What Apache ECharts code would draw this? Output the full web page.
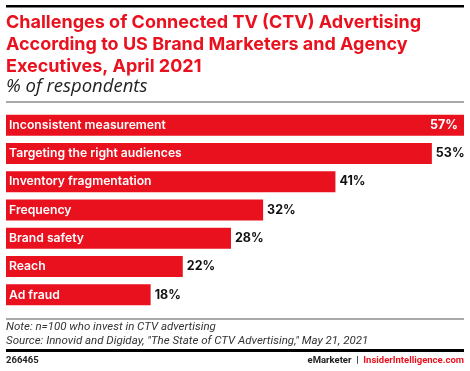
<!DOCTYPE html>
<html>
<head>
<meta charset="utf-8">
<script src="https://cdn.jsdelivr.net/npm/echarts@6/dist/echarts.min.js"></script>
<style>
html,body{margin:0;padding:0;background:#fff;}
#chart{width:470px;height:371px;}
</style>
</head>
<body>
<div id="chart"></div>
<script>
var categories = ["Inconsistent measurement","Targeting the right audiences","Inventory fragmentation","Frequency","Brand safety","Reach","Ad fraud"];
var values = [57,53,41,32,28,22,18];
var titleLines = ["Challenges of Connected TV (CTV) Advertising","According to US Brand Marketers and Agency","Executives, April 2021"];
var subtitle = "% of respondents";
var noteText = "Note: n=100 who invest in CTV advertising";
var sourceText = "Source: Innovid and Digiday, \"The State of CTV Advertising,\" May 21, 2021";
var chartId = "266465";

var RED = '#e9111e';
var FONT = 'Inter, "Noto Sans", sans-serif';
var FFONT = 'Roboto, sans-serif';
var chart = echarts.init(document.getElementById('chart'), null, {renderer:'canvas'});

var graphics = [
  {type:'rect', shape:{x:6,y:5,width:458,height:2.5}, style:{fill:'#000'}},
  {type:'rect', shape:{x:6,y:101.5,width:458,height:1}, style:{fill:'#555'}},
  {type:'rect', shape:{x:6,y:318.5,width:458,height:1}, style:{fill:'#555'}},
  {type:'rect', shape:{x:6,y:349,width:458,height:3}, style:{fill:'#000'}}
];
var titleY = [23, 45, 67];
titleLines.forEach(function(t,i){
  graphics.push({type:'text', x:6, y:titleY[i], style:{text:t, fill:RED, font:'bold 18px '+FONT, verticalAlign:'middle'}});
});
graphics.push({type:'text', x:6, y:87, style:{text:subtitle, fill:'#222', font:'italic 18.5px "Open Sans", sans-serif', verticalAlign:'middle'}});
graphics.push({type:'text', x:6, y:327.5, style:{text:noteText, fill:'#333', font:'italic 11.5px Roboto, sans-serif', verticalAlign:'middle'}});
graphics.push({type:'text', x:6, y:341.5, style:{text:sourceText, fill:'#333', font:'italic 11.5px Roboto, sans-serif', verticalAlign:'middle'}});
graphics.push({type:'text', x:6, y:361, style:{text:chartId, fill:'#222', font:'bold 9.5px '+FFONT, verticalAlign:'middle'}});
graphics.push({type:'text', x:464, y:361, style:{
  text:'{a|eMarketer}{b|  |  }{c|InsiderIntelligence.com}', align:'right', verticalAlign:'middle',
  rich:{a:{fill:'#222',fontFamily:FFONT,fontWeight:'bold',fontSize:9.5}, b:{fill:'#222',fontFamily:FFONT,fontWeight:'bold',fontSize:9.5}, c:{fill:RED,fontFamily:FFONT,fontWeight:'bold',fontSize:9.5}}
}});

chart.setOption({
  animation:false,
  grid:{left:6, right:6, top:111, bottom:62, containLabel:false},
  xAxis:{type:'value', min:0, max:57, show:false},
  yAxis:{type:'category', data:categories, inverse:true, show:false},
  series:[{
    type:'bar',
    data:values.map(function(v,i){
      return {value:v, label: i===0 ? {position:'insideRight', color:'#fff', offset:[-1,0]} : {position:'right', color:'#111', distance:4}};
    }),
    barWidth:21,
    itemStyle:{color:RED},
    label:{show:true, formatter:'{c}%', fontFamily:FONT, fontWeight:'bold', fontSize:12.5},
    silent:true
  },{
    type:'bar',
    data:values,
    barWidth:21,
    barGap:'-100%',
    itemStyle:{color:'transparent'},
    label:{show:true, position:'insideLeft', formatter:function(p){return categories[p.dataIndex];}, color:'#fff', fontFamily:FONT, fontWeight:600, fontSize:12.2, distance:3},
    silent:true
  }],
  graphic:graphics
});
</script>
</body>
</html>
